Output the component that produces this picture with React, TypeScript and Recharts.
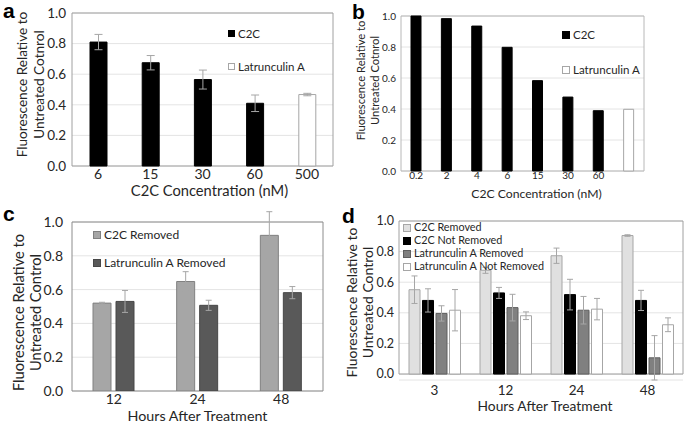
import { Bar, BarChart, CartesianGrid, Cell, ErrorBar, Legend, ReferenceArea, XAxis, YAxis } from 'recharts'

const FONT = 'Lato, "Noto Sans", sans-serif'
const INK = '#262626'
const GRID = '#e4e4e4'
const FRAME = '#a0a0a0'
const WHISKER = '#a6a6a6'

// panel a: dose response, 48 h
const aDoses = ['6', '15', '30', '60', '500']
const aTreatments = ['C2C', 'C2C', 'C2C', 'C2C', 'Latrunculin A']
const aValues = [0.81, 0.675, 0.565, 0.41, 0.467]
const aErrors = [0.05, 0.047, 0.062, 0.054, 0.008]
const aTicks = [0, 0.2, 0.4, 0.6, 0.8, 1.0]

// panel b: wider dose range
const bDoses = ['0.2', '2', '4', '6', '15', '30', '60', '']
const bTreatments = ['C2C', 'C2C', 'C2C', 'C2C', 'C2C', 'C2C', 'C2C', 'Latrunculin A']
const bValues = [1.0, 0.983, 0.935, 0.798, 0.583, 0.477, 0.389, 0.398]
const bTicks = [0, 0.1, 0.2, 0.3, 0.4, 0.5, 0.6, 0.7, 0.8, 0.9, 1.0]

// panel c: recovery after removal
const cHours = ['12', '24', '48']
const cC2CRemoved = [0.52, 0.648, 0.921]
const cC2CRemovedErr = [0.005, 0.058, 0.14]
const cLatRemoved = [0.53, 0.507, 0.582]
const cLatRemovedErr = [0.065, 0.03, 0.036]

// panel d: removed vs not removed
const dHours = ['3', '12', '24', '48']
const dC2CRemoved = [0.551, 0.678, 0.773, 0.905]
const dC2CRemovedErr = [0.09, 0.02, 0.05, 0.005]
const dC2CKept = [0.481, 0.53, 0.519, 0.481]
const dC2CKeptErr = [0.076, 0.036, 0.1, 0.066]
const dLatRemoved = [0.396, 0.434, 0.417, 0.106]
const dLatRemovedErr = [0.05, 0.087, 0.09, 0.145]
const dLatKept = [0.417, 0.381, 0.424, 0.322]
const dLatKeptErr = [0.135, 0.025, 0.07, 0.045]
const fracTicks = [0, 0.2, 0.4, 0.6, 0.8, 1.0]

const swatch: Record<string, { fill: string; stroke: string }> = {
  C2C: { fill: '#000000', stroke: '#000000' },
  'Latrunculin A': { fill: '#ffffff', stroke: '#a6a6a6' },
  'C2C Removed': { fill: '#a6a6a6', stroke: '#808080' },
  'Latrunculin A Removed': { fill: '#595959', stroke: '#474747' },
  'C2C Removed d': { fill: '#e0e0e0', stroke: '#a6a6a6' },
  'C2C Not Removed': { fill: '#000000', stroke: '#000000' },
  'Latrunculin A Removed d': { fill: '#808080', stroke: '#5f5f5f' },
  'Latrunculin A Not Removed': { fill: '#ffffff', stroke: '#a6a6a6' },
}

const aRows = aDoses.map((dose, i) => ({ dose, treatment: aTreatments[i], value: aValues[i], err: aErrors[i] }))
const bRows = bDoses.map((dose, i) => ({ dose, treatment: bTreatments[i], value: bValues[i] }))
const cRows = cHours.map((hour, i) => ({
  hour,
  c2c: cC2CRemoved[i],
  c2cErr: cC2CRemovedErr[i],
  lat: cLatRemoved[i],
  latErr: cLatRemovedErr[i],
}))
const dRows = dHours.map((hour, i) => ({
  hour,
  c2cOff: dC2CRemoved[i],
  c2cOffErr: dC2CRemovedErr[i],
  c2cOn: dC2CKept[i],
  c2cOnErr: dC2CKeptErr[i],
  latOff: dLatRemoved[i],
  latOffErr: dLatRemovedErr[i],
  latOn: dLatKept[i],
  latOnErr: dLatKeptErr[i],
}))

const fmt = (v: number) => v.toFixed(1)

// two-line rotated axis title; xs are the centres of each line
function YTitle({ viewBox, lines, xs, dy, size }: any) {
  const cy = viewBox.y + viewBox.height / 2 + dy
  return (
    <g>
      {lines.map((line: string, i: number) => (
        <text
          key={line}
          transform={`translate(${xs[i]} ${cy}) rotate(-90)`}
          x={0}
          y={0}
          textAnchor="middle"
          dominantBaseline="central"
          fontSize={size}
          fontFamily={FONT}
          fill={INK}
        >
          {line}
        </text>
      ))}
    </g>
  )
}

function XTitle({ viewBox, text, dx, dy, size }: any) {
  return (
    <text
      x={viewBox.x + viewBox.width / 2 + dx}
      y={viewBox.y + dy}
      textAnchor="middle"
      dominantBaseline="central"
      fontSize={size}
      fontFamily={FONT}
      fill={INK}
    >
      {text}
    </text>
  )
}

function Key({ names, size, box, row }: { names: string[]; size: number; box: number; row: number }) {
  return (
    <div style={{ fontFamily: FONT, fontSize: size, lineHeight: 1, color: INK }}>
      {names.map((name) => {
        const s = swatch[name]
        return (
          <div key={name} style={{ display: 'flex', alignItems: 'center', height: row, whiteSpace: 'nowrap' }}>
            <span
              style={{
                display: 'inline-block',
                width: box,
                height: box,
                boxSizing: 'border-box',
                background: s.fill,
                border: `1px solid ${s.stroke}`,
                marginRight: 3,
              }}
            />
            {name.replace(/ d$/, '')}
          </div>
        )
      })}
    </div>
  )
}

const tickStyle = (size: number) => ({ fill: INK, fontSize: size, fontFamily: FONT })

function PanelA() {
  return (
    <BarChart width={340} height={200} data={aRows} margin={{ top: 13, right: 7, bottom: 0, left: 0 }} barSize={17}>
      <CartesianGrid vertical={false} stroke={GRID} />
      <XAxis
        dataKey="dose"
        height={34}
        axisLine={false}
        tickLine={false}
        tickSize={0}
        tickMargin={3}
        tick={tickStyle(14)}
        label={{ content: (p: any) => <XTitle viewBox={p.viewBox} text="C2C Concentration (nM)" dx={7} dy={24} size={14.7} /> }}
      />
      <YAxis
        width={72}
        domain={[0, 1]}
        ticks={aTicks}
        tickFormatter={fmt}
        axisLine={false}
        tickLine={false}
        tickSize={0}
        tickMargin={6}
        tick={tickStyle(13.5)}
        label={{
          content: (p: any) => (
            <YTitle viewBox={p.viewBox} lines={['Fluorescence Relative to', 'Untreated Cotnrol']} xs={[22, 39]} dy={-5} size={13.6} />
          ),
        }}
      />
      <ReferenceArea y1={0} y2={1} fill="none" stroke={FRAME} />
      <Legend
        layout="vertical"
        align="center"
        verticalAlign="middle"
        wrapperStyle={{ left: 228, top: 17, width: 'auto' }}
        content={() => <Key names={['C2C', 'Latrunculin A']} size={11.5} box={7} row={33} />}
      />
      <Bar dataKey="value" isAnimationActive={false}>
        {aRows.map((r) => (
          <Cell key={r.dose} fill={swatch[r.treatment].fill} stroke={swatch[r.treatment].stroke} />
        ))}
        <ErrorBar dataKey="err" width={4} stroke={WHISKER} strokeWidth={1} />
      </Bar>
    </BarChart>
  )
}

function PanelB() {
  return (
    <BarChart width={345} height={200} data={bRows} margin={{ top: 16, right: 41, bottom: 0, left: 0 }} barSize={10}>
      <CartesianGrid vertical={false} stroke={GRID} />
      <XAxis
        dataKey="dose"
        height={29}
        axisLine={false}
        tickLine={false}
        tickSize={0}
        tickMargin={1}
        tick={tickStyle(10)}
        label={{ content: (p: any) => <XTitle viewBox={p.viewBox} text="C2C Concentration (nM)" dx={14} dy={22} size={12.2} /> }}
      />
      <YAxis
        width={61}
        domain={[0, 1]}
        ticks={bTicks}
        tickFormatter={fmt}
        axisLine={false}
        tickLine={false}
        tickSize={0}
        tickMargin={5}
        tick={tickStyle(10)}
        label={{
          content: (p: any) => (
            <YTitle viewBox={p.viewBox} lines={['Fluorescence Relative to', 'Untreated Cotnrol']} xs={[20, 34]} dy={-13} size={11.2} />
          ),
        }}
      />
      <ReferenceArea y1={0} y2={1} fill="none" stroke="#b8b8b8" />
      <Legend
        layout="vertical"
        align="center"
        verticalAlign="middle"
        wrapperStyle={{ left: 222, top: 17, width: 'auto' }}
        content={() => <Key names={['C2C', 'Latrunculin A']} size={11.5} box={8} row={35} />}
      />
      <Bar dataKey="value" isAnimationActive={false}>
        {bRows.map((r) => (
          <Cell key={r.dose + r.treatment} fill={swatch[r.treatment].fill} stroke={swatch[r.treatment].stroke} />
        ))}
      </Bar>
    </BarChart>
  )
}

function PanelC() {
  return (
    <BarChart width={340} height={223} data={cRows} margin={{ top: 22, right: 17, bottom: 0, left: 0 }} barSize={18} barGap={5}>
      <CartesianGrid vertical={false} stroke={GRID} />
      <XAxis
        dataKey="hour"
        height={32}
        axisLine={false}
        tickLine={false}
        tickSize={0}
        tickMargin={3}
        tick={tickStyle(14)}
        label={{ content: (p: any) => <XTitle viewBox={p.viewBox} text="Hours After Treatment" dx={0} dy={24} size={14.3} /> }}
      />
      <YAxis
        width={72}
        domain={[0, 1]}
        allowDataOverflow
        ticks={fracTicks}
        tickFormatter={fmt}
        axisLine={false}
        tickLine={false}
        tickSize={0}
        tickMargin={9}
        tick={tickStyle(14)}
        label={{
          content: (p: any) => (
            <YTitle viewBox={p.viewBox} lines={['Fluorescence Relative to', 'Untreated Control']} xs={[18, 35]} dy={6} size={14.7} />
          ),
        }}
      />
      <ReferenceArea y1={0} y2={1} fill="none" stroke="#8c8c8c" />
      <Legend
        layout="vertical"
        align="center"
        verticalAlign="middle"
        wrapperStyle={{ left: 93, top: 21, width: 'auto' }}
        content={() => <Key names={['C2C Removed', 'Latrunculin A Removed']} size={12} box={8} row={28} />}
      />
      <Bar dataKey="c2c" fill={swatch['C2C Removed'].fill} stroke={swatch['C2C Removed'].stroke} isAnimationActive={false}>
        <ErrorBar dataKey="c2cErr" width={3} stroke={WHISKER} strokeWidth={1} />
      </Bar>
      <Bar
        dataKey="lat"
        fill={swatch['Latrunculin A Removed'].fill}
        stroke={swatch['Latrunculin A Removed'].stroke}
        isAnimationActive={false}
      >
        <ErrorBar dataKey="latErr" width={3} stroke={WHISKER} strokeWidth={1} />
      </Bar>
    </BarChart>
  )
}

function PanelD() {
  const series = [
    { key: 'c2cOff', name: 'C2C Removed d' },
    { key: 'c2cOn', name: 'C2C Not Removed' },
    { key: 'latOff', name: 'Latrunculin A Removed d' },
    { key: 'latOn', name: 'Latrunculin A Not Removed' },
  ]
  return (
    <BarChart width={345} height={223} data={dRows} margin={{ top: 21, right: 2, bottom: 0, left: 0 }} barSize={11} barGap={2.5}>
      <CartesianGrid vertical={false} stroke={GRID} />
      <XAxis
        dataKey="hour"
        height={43}
        axisLine={false}
        tickLine={false}
        tickSize={0}
        tickMargin={5}
        tick={tickStyle(13.5)}
        label={{ content: (p: any) => <XTitle viewBox={p.viewBox} text="Hours After Treatment" dx={4} dy={25} size={13.8} /> }}
      />
      <YAxis
        width={59}
        domain={[0, 1]}
        ticks={fracTicks}
        tickFormatter={fmt}
        axisLine={false}
        tickLine={false}
        tickSize={0}
        tickMargin={5}
        tick={tickStyle(12.5)}
        label={{
          content: (p: any) => (
            <YTitle viewBox={p.viewBox} lines={['Fluorescence Relative to', 'Untreated Control']} xs={[11, 27]} dy={2} size={14} />
          ),
        }}
      />
      <ReferenceArea y1={0} y2={1} fill="none" stroke={FRAME} />
      <Legend
        layout="vertical"
        align="center"
        verticalAlign="middle"
        wrapperStyle={{ left: 63, top: 21, width: 'auto' }}
        content={() => <Key names={series.map((s) => s.name)} size={10.8} box={8} row={13} />}
      />
      {series.map((s) => (
        <Bar key={s.key} dataKey={s.key} fill={swatch[s.name].fill} stroke={swatch[s.name].stroke} isAnimationActive={false}>
          <ErrorBar dataKey={s.key + 'Err'} width={3} stroke={WHISKER} strokeWidth={1} />
        </Bar>
      ))}
    </BarChart>
  )
}

const letter = { position: 'absolute' as const, fontFamily: '"Liberation Sans", Arial, sans-serif', fontWeight: 700, fontSize: 21, lineHeight: 1, color: '#000' }

export default function App() {
  return (
    <div style={{ position: 'absolute', left: 0, top: 0, width: 685, height: 423, background: '#fff', overflow: 'hidden' }}>
      <div style={{ position: 'absolute', left: 0, top: 0 }}>
        <PanelA />
      </div>
      <div style={{ position: 'absolute', left: 340, top: 0 }}>
        <PanelB />
      </div>
      <div style={{ position: 'absolute', left: 0, top: 200 }}>
        <PanelC />
      </div>
      <div style={{ position: 'absolute', left: 340, top: 200 }}>
        <PanelD />
      </div>
      <div style={{ ...letter, left: 3, top: 0 }}>a</div>
      <div style={{ ...letter, left: 352, top: 1 }}>b</div>
      <div style={{ ...letter, left: 3, top: 203 }}>c</div>
      <div style={{ ...letter, left: 342, top: 205 }}>d</div>
    </div>
  )
}
